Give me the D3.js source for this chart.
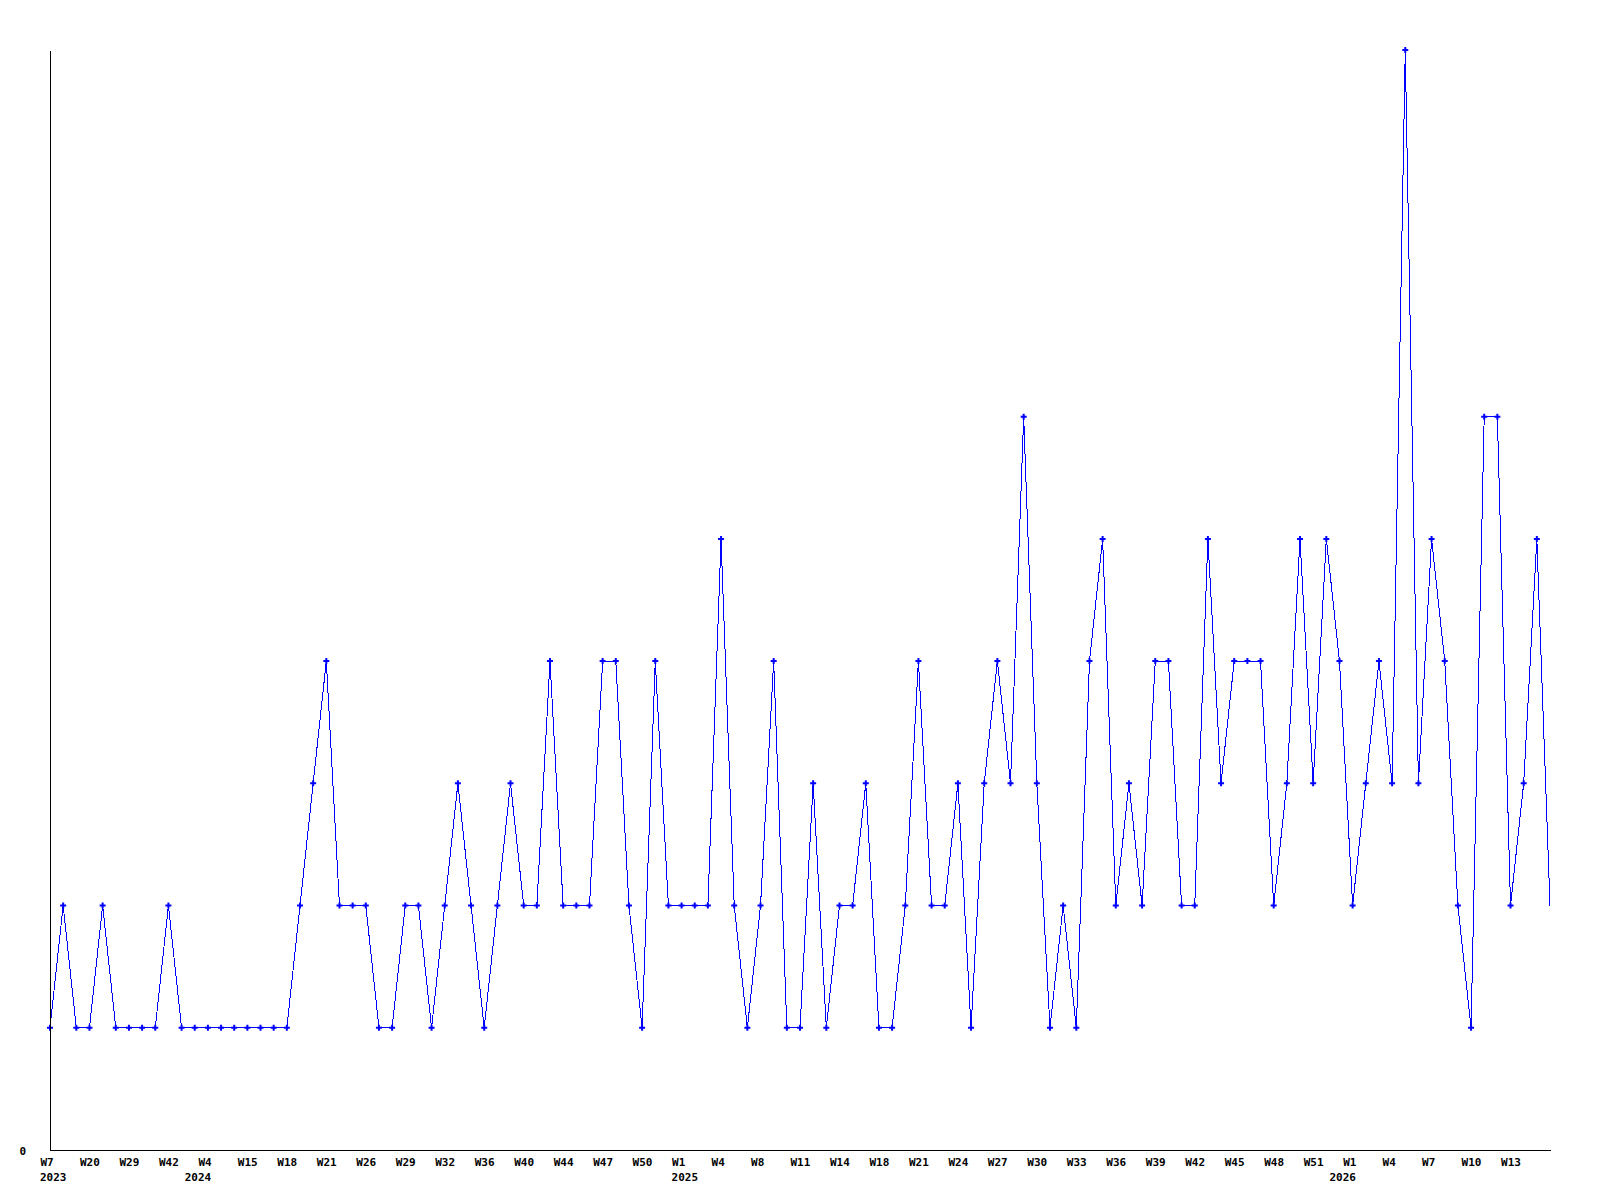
<!DOCTYPE html>
<html>
<head>
<meta charset="utf-8">
<script src="https://cdn.jsdelivr.net/npm/d3@7"></script>
<style>
  body { margin: 0; background: #fff; }
  .chart text { font-family: "DejaVu Sans Mono", monospace; font-weight: bold; font-size: 11px; fill: #000; }
</style>
</head>
<body>
<div class="chart"></div>
<script>
// Weekly counts, one per plotted week
var values = [
    1, 2, 1, 1, 2, 1, 1, 1, 1, 2,
    1, 1, 1, 1, 1, 1, 1, 1, 1, 2,
    3, 4, 2, 2, 2, 1, 1, 2, 2, 1,
    2, 3, 2, 1, 2, 3, 2, 2, 4, 2,
    2, 2, 4, 4, 2, 1, 4, 2, 2, 2,
    2, 5, 2, 1, 2, 4, 1, 1, 3, 1,
    2, 2, 3, 1, 1, 2, 4, 2, 2, 3,
    1, 3, 4, 3, 6, 3, 1, 2, 1, 4,
    5, 2, 3, 2, 4, 4, 2, 2, 5, 3,
    4, 4, 4, 2, 3, 5, 3, 5, 4, 2,
    3, 4, 3, 9, 3, 5, 4, 2, 1, 6,
    6, 2, 3, 5, 2
];

// Week labels, shown on every third point
var tickLabels = [
    "W7", "W20", "W29", "W42", "W4", "W15", "W18", "W21", "W26", "W29",
    "W32", "W36", "W40", "W44", "W47", "W50", "W1", "W4", "W8", "W11",
    "W14", "W18", "W21", "W24", "W27", "W30", "W33", "W36", "W39", "W42",
    "W45", "W48", "W51", "W1", "W4", "W7", "W10", "W13"
];
var tickStep = 3;

// Years and the point where each one starts
var years = ["2023", "2024", "2025", "2026"];
var yearStart = [0, 11, 48, 98];

var svgWidth = 1600;
var svgHeight = 1200;
var margin = { top: 50, right: 50, bottom: 50, left: 50 };
var width = svgWidth - margin.left - margin.right;
var height = svgHeight - margin.top - margin.bottom;

var svg = d3.select(".chart")
    .append("svg")
    .attr("width", svgWidth)
    .attr("height", svgHeight);

var chart = svg.append("g")
    .attr("transform", "translate(" + margin.left + "," + margin.top + ")");

var xScale = d3.scaleLinear().domain([0, values.length - 1]).range([0, width]);
var yScale = d3.scaleLinear().domain([0, d3.max(values)]).range([height, 0]);

// Line
var line = d3.line()
    .x(function (d, i) { return xScale(i); })
    .y(function (d) { return yScale(d); });

chart.append("path")
    .datum(values)
    .attr("d", line)
    .attr("fill", "none")
    .attr("stroke", "#0000ff")
    .attr("stroke-width", 1)
    .attr("shape-rendering", "crispEdges");

// Point markers (last week has none)
chart.selectAll(".pt")
    .data(values.slice(0, -1))
    .enter()
    .append("path")
    .attr("class", "pt")
    .attr("d", d3.symbol(d3.symbolCross, 20))
    .attr("transform", function (d, i) {
        return "translate(" + xScale(i) + "," + yScale(d) + ")";
    })
    .attr("fill", "#0000ff");

// X axis
var tickValues = tickLabels.map(function (l, i) { return i * tickStep; });
var bottomAxis = d3.axisBottom(xScale)
    .tickValues(tickValues)
    .tickSize(0)
    .tickFormat(function (d, i) { return tickLabels[i]; });

var xAxis = chart.append("g")
    .attr("transform", "translate(0," + height + ")")
    .call(bottomAxis);
xAxis.select(".domain").attr("stroke", "#000").attr("shape-rendering", "crispEdges");
xAxis.selectAll("text")
    .attr("text-anchor", "start")
    .attr("dx", -10)
    .attr("y", 16)
    .attr("dy", 0);
xAxis.attr("font-size", null).attr("font-family", null);

// Year labels
chart.selectAll(".year")
    .data(years)
    .enter()
    .append("text")
    .attr("class", "year")
    .attr("x", function (d, i) { return xScale(yearStart[i]) - 10; })
    .attr("y", height + 31)
    .text(function (d) { return d; });

// Y axis
var leftAxis = d3.axisLeft(yScale).tickValues([0]).tickSize(0).tickSizeOuter(0);
var yAxis = chart.append("g").call(leftAxis);
yAxis.select(".domain").attr("stroke", "#000").attr("shape-rendering", "crispEdges");
yAxis.selectAll("text").attr("x", -24).attr("dy", 4).attr("text-anchor", "end");
yAxis.attr("font-size", null).attr("font-family", null);
</script>
</body>
</html>
